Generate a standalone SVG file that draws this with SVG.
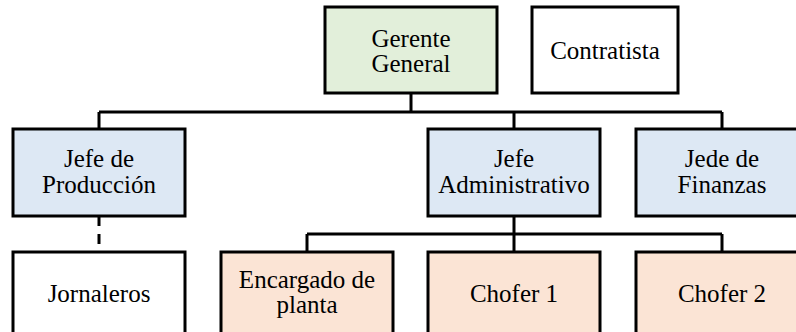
<svg xmlns="http://www.w3.org/2000/svg" width="796" height="332" viewBox="0 0 796 332">
<style>
.box{stroke:#000;stroke-width:3}
.g{fill:#e2efda}.b{fill:#dde8f4}.p{fill:#fbe4d5}.w{fill:#fff}
text{font-family:"Liberation Serif","Times New Roman",serif;font-size:25px;fill:#000;text-anchor:middle}
.c{fill:none;stroke:#000;stroke-width:3}
</style>
<rect width="796" height="332" fill="#fff"/>
<g id="connectors">
<path class="c" d="M411 93V112M99 112H722M99 112V129M514 112V129M722 112V129"/>
<path class="c" d="M514 216V234M307 234H722M307 234V252M514 234V252M722 234V252"/>
<path class="c" d="M99 216V252" stroke-dasharray="10 8"/>
</g>
<g id="gerente"><rect class="box g" x="325" y="7" width="172" height="86"/><text x="411" y="46.5">Gerente</text><text x="411" y="72">General</text></g>
<g id="contratista"><rect class="box w" x="532" y="7" width="146" height="86"/><text x="605" y="59">Contratista</text></g>
<g id="jefe-produccion"><rect class="box b" x="13" y="129" width="172" height="87"/><text x="99" y="166.5">Jefe de</text><text x="99" y="193">Producción</text></g>
<g id="jefe-administrativo"><rect class="box b" x="428" y="129" width="172" height="87"/><text x="514" y="166.5">Jefe</text><text x="514" y="193">Administrativo</text></g>
<g id="jefe-finanzas"><rect class="box b" x="636" y="129" width="172" height="87"/><text x="722" y="166.5">Jede de</text><text x="722" y="193">Finanzas</text></g>
<g id="jornaleros"><rect class="box w" x="13" y="252" width="172" height="90"/><text x="99" y="302">Jornaleros</text></g>
<g id="encargado"><rect class="box p" x="221" y="252" width="172" height="90"/><text x="307" y="287.5">Encargado de</text><text x="307" y="313">planta</text></g>
<g id="chofer1"><rect class="box p" x="428" y="252" width="172" height="90"/><text x="514" y="302">Chofer 1</text></g>
<g id="chofer2"><rect class="box p" x="636" y="252" width="172" height="90"/><text x="722" y="302">Chofer 2</text></g>
</svg>
